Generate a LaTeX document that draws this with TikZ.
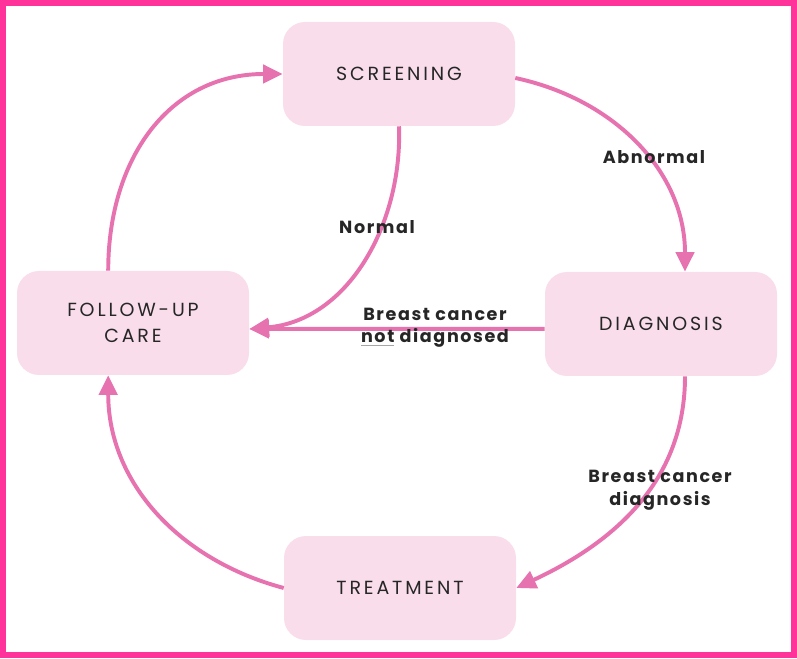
\documentclass[tikz,border=0pt]{standalone}
\usepackage{fontspec}
\setmainfont{Poppins}
\newfontfamily\boxfont[LetterSpace=15]{Poppins}
\newfontfamily\labfont[LetterSpace=9]{Poppins}
\usepackage{tikz}
\usetikzlibrary{arrows.meta,positioning}
\definecolor{cadre}{HTML}{FF3399}
\definecolor{boite}{HTML}{F9DDEB}
\definecolor{trait}{HTML}{E673B0}

\begin{document}
\begin{tikzpicture}[stage/.style={rounded corners=0.55cm,fill=boite,minimum width=5.8cm,minimum height=2.6cm,align=center,font=\boxfont\fontsize{13.5}{18}\selectfont,text=black!85},flow/.style={draw=trait,line width=2.8pt,-{Triangle[length=14pt,width=13pt]}},lab/.style={font=\labfont\bfseries\fontsize{12.5}{16}\selectfont,text=black!85,align=center}]
\useasboundingbox (0,0) rectangle (19.925,16.45);
\draw[cadre,line width=0.16cm] (0.08,0.08) rectangle (19.845,16.37);
\node[stage] (screen) at (9.975,14.6) {SCREENING};
\node[stage] (follow) at (3.325,8.375) {FOLLOW-UP\\CARE};
\node[stage] (diag) at (16.525,8.35) {DIAGNOSIS};
\node[stage] (treat) at (10.0,1.75) {TREATMENT};
\draw[flow] ([xshift=-0.62cm]follow.north) to[out=90,in=180,looseness=1.1] (screen.west);
\draw[flow] ([yshift=-0.1cm]screen.east) to[out=-12,in=90] ([xshift=0.6cm]diag.north);
\draw[flow] (screen.south) to[out=-88,in=5] ([yshift=-0.15cm]follow.east);
\draw[flow] ([yshift=-0.12cm]diag.west) -- ([yshift=-0.15cm]follow.east);
\draw[flow] ([xshift=0.6cm]diag.south) to[out=-90,in=25] (treat.east);
\draw[flow] (treat.west) to[out=165,in=-90] ([xshift=-0.62cm]follow.south);
\node[lab] (abn) at (16.35,12.525) {Abnormal};
\node[lab] (norm) at (9.425,10.775) {Normal};
\node[lab] (notdiag) at (10.875,8.25) {Breast cancer\\{\color{black!35}\underline{\textcolor{black!85}{not}}} diagnosed};
\node[lab] (yesdiag) at (16.5,4.2) {Breast cancer\\diagnosis};
\end{tikzpicture}
\end{document}
